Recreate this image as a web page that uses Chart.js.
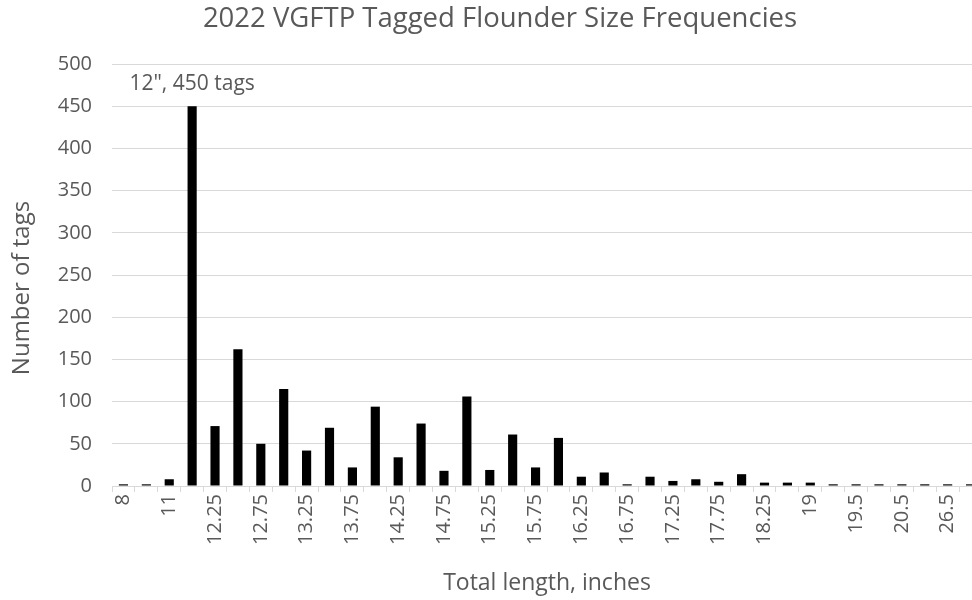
<!DOCTYPE html>
<html>
<head>
<meta charset="utf-8">
<script src="https://cdn.jsdelivr.net/npm/chart.js@4/dist/chart.umd.min.js"></script>
<style>
  html, body { margin: 0; padding: 0; background: #ffffff; overflow: hidden; width: 972px; height: 600px; }
  #wrap { width: 1000px; height: 600px; }
</style>
</head>
<body>
<div id="wrap"><canvas id="c" width="1000" height="600"></canvas></div>
<script>
const chartTitle = '2022 VGFTP Tagged Flounder Size Frequencies';
const xTitle = 'Total length, inches';
const yTitle = 'Number of tags';
const annotationText = '12", 450 tags';
const annotationIndex = 3;

const lengths = ['8','10','11','12','12.25','12.5','12.75','13','13.25','13.5','13.75','14','14.25','14.5','14.75','15','15.25','15.5','15.75','16','16.25','16.5','16.75','17','17.25','17.5','17.75','18','18.25','18.5','19','19.25','19.5','20','20.5','21','26.5','27'];
const tagCounts = [2,2,8,450,71,162,50,115,42,69,22,94,34,74,18,106,19,61,22,57,11,16,2,11,6,8,5,14,4,4,4,2,2,2,2,2,2,2];
const yTicks = [0,50,100,150,200,250,300,350,400,450,500];

const textColor = '#595959';
const gridColor = '#d9d9d9';
const fontFamily = '"Open Sans", sans-serif';

const annotationPlugin = {
  id: 'barNote',
  afterDatasetsDraw(chart) {
    const {ctx, scales} = chart;
    const x = scales.x.getPixelForValue(annotationIndex);
    const y = scales.y.getPixelForValue(tagCounts[annotationIndex]) - 22;
    ctx.save();
    ctx.font = '21px ' + fontFamily;
    ctx.fillStyle = textColor;
    ctx.textAlign = 'center';
    ctx.textBaseline = 'middle';
    ctx.fillText(annotationText, x, y);
    // y-axis title, placed slightly below the plot centre as in the reference
    ctx.translate(22, (scales.y.top + scales.y.bottom) / 2 + 13);
    ctx.rotate(-Math.PI / 2);
    ctx.font = '24px ' + fontFamily;
    ctx.fillText(yTitle, 0, 0);
    ctx.restore();
  }
};

new Chart(document.getElementById('c'), {
  type: 'bar',
  data: {
    labels: lengths,
    datasets: [{
      data: tagCounts,
      backgroundColor: '#000000',
      borderWidth: 0,
      barPercentage: 0.4,
      categoryPercentage: 1.0
    }]
  },
  options: {
    responsive: false,
    animation: false,
    devicePixelRatio: 1,
    layout: { padding: { left: 0, right: 0, top: 0, bottom: 0 } },
    plugins: {
      legend: { display: false },
      tooltip: { enabled: false },
      title: {
        display: true,
        text: chartTitle,
        color: textColor,
        font: { family: fontFamily, size: 27.5, weight: 'normal', lineHeight: 1.2 },
        padding: { top: 3, bottom: 28 }
      }
    },
    scales: {
      x: {
        afterFit(scale) { scale.height = 114; },
        grid: {
          display: true,
          drawOnChartArea: false,
          drawTicks: true,
          tickLength: 6,
          color: gridColor,
          offset: true
        },
        border: { display: true, color: gridColor, width: 1 },
        ticks: {
          autoSkip: false,
          minRotation: 90,
          maxRotation: 90,
          color: textColor,
          padding: 2,
          font: { family: fontFamily, size: 20 },
          callback(value, index) { return index % 2 === 0 ? lengths[index] : ''; }
        },
        title: {
          display: true,
          text: xTitle,
          color: textColor,
          font: { family: fontFamily, size: 23, lineHeight: 1.2 },
          padding: { top: 0, bottom: 3 }
        }
      },
      y: {
        min: 0,
        max: 500,
        afterFit(scale) { scale.width = 112; },
        afterBuildTicks(scale) { scale.ticks = yTicks.map(v => ({ value: v })); },
        grid: { color: gridColor, drawTicks: false, lineWidth: 1 },
        border: { display: false },
        ticks: {
          color: textColor,
          padding: 20,
          font: { family: fontFamily, size: 20 }
        },
        title: { display: false }
      },
      rightGap: {
        type: 'linear',
        position: 'right',
        display: true,
        afterFit(scale) { scale.width = 18; },
        grid: { display: false, drawOnChartArea: false },
        border: { display: false },
        ticks: { display: false }
      }
    }
  },
  plugins: [annotationPlugin]
});
</script>
</body>
</html>
